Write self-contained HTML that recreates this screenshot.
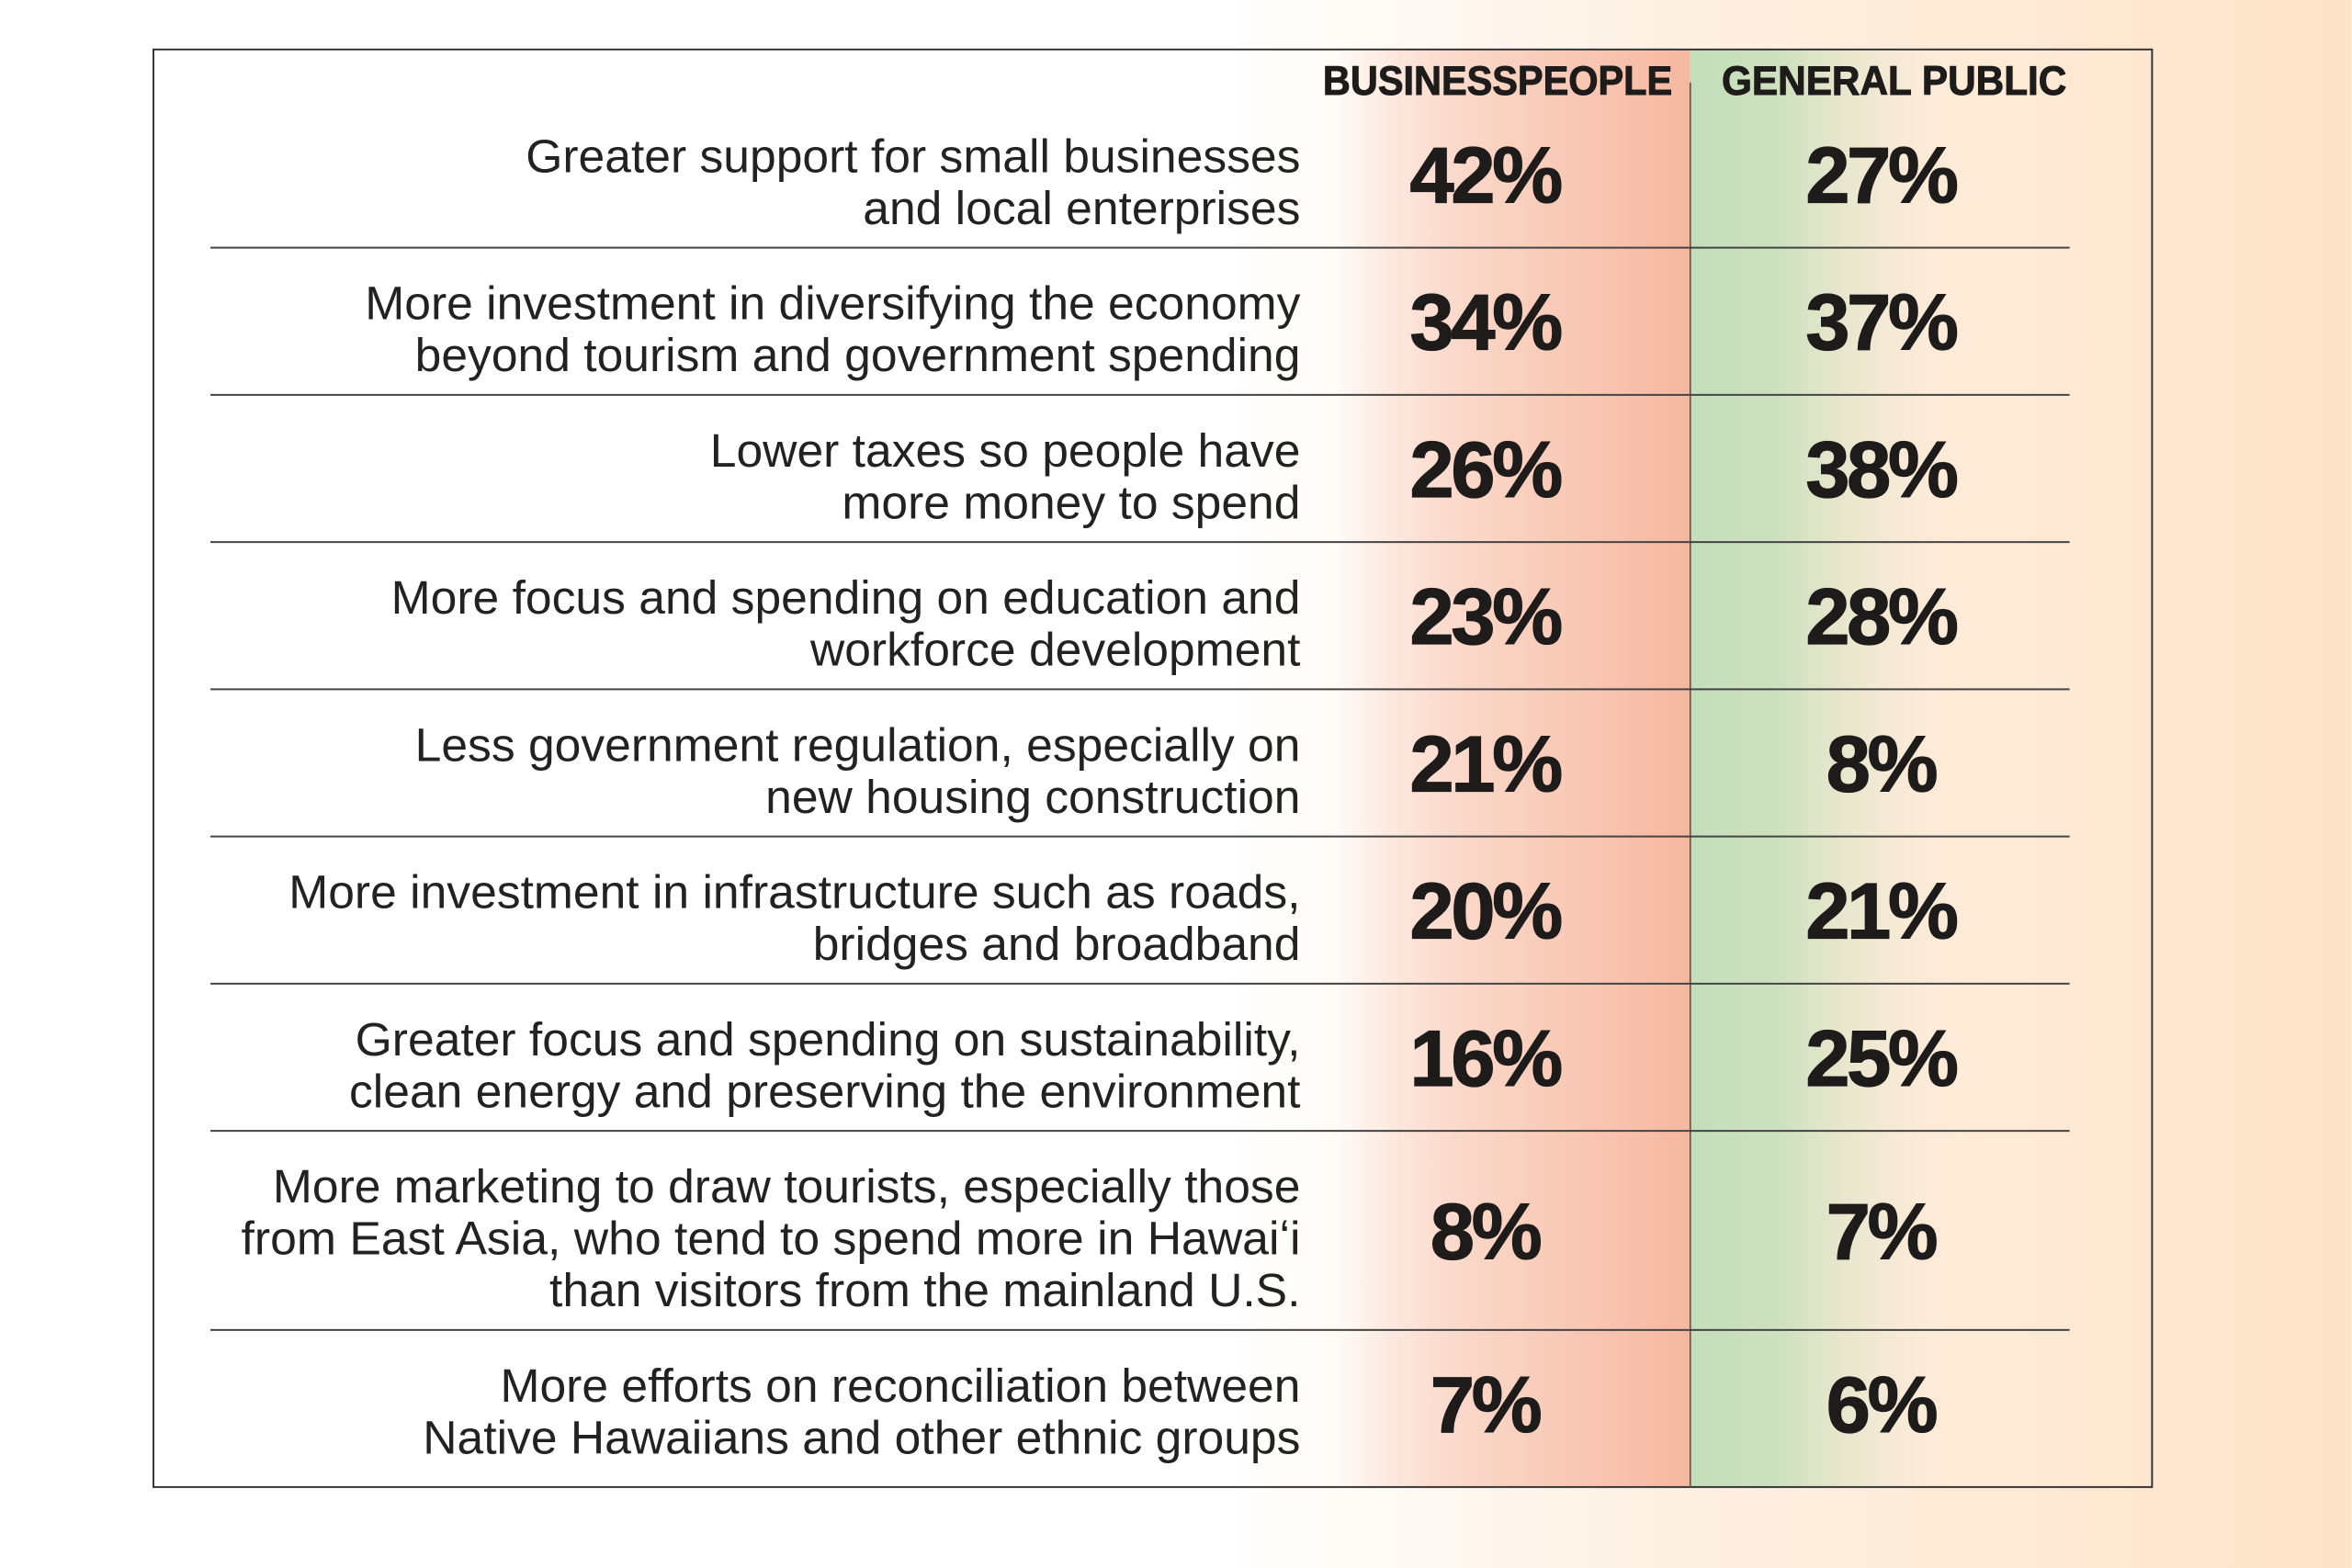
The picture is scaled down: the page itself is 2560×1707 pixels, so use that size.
<!DOCTYPE html>
<html><head><meta charset="utf-8">
<style>
html,body{margin:0;padding:0;width:2560px;height:1707px;overflow:hidden;background:#fff}
svg{display:block}
</style></head>
<body>
<svg id="chart" width="2560" height="1707" viewBox="0 0 1568 1046" xmlns="http://www.w3.org/2000/svg">
<defs>
<linearGradient id="bg" x1="0" y1="0" x2="1568" y2="0" gradientUnits="userSpaceOnUse">
<stop offset="0" stop-color="#ffffff"/><stop offset="0.52" stop-color="#ffffff"/><stop offset="0.72" stop-color="#fef0e2"/><stop offset="1" stop-color="#fde3c8"/>
</linearGradient>
<linearGradient id="salmon" x1="0" y1="0" x2="1" y2="0">
<stop offset="0" stop-color="#f6b49c" stop-opacity="0"/><stop offset="0.45" stop-color="#f8c7b4" stop-opacity="0.75"/><stop offset="1" stop-color="#f6b7a0" stop-opacity="1"/>
</linearGradient>
<linearGradient id="green" x1="0" y1="0" x2="1" y2="0">
<stop offset="0" stop-color="#c4debb"/><stop offset="0.35" stop-color="#cfe1bf"/><stop offset="1" stop-color="#f6e8d4" stop-opacity="0"/>
</linearGradient>
</defs>
<rect x="0" y="0" width="1568" height="1046" fill="url(#bg)"/>
<rect x="102" y="33" width="1333" height="959" fill="url(#bg)"/>
<rect x="890" y="33" width="237" height="959" fill="url(#salmon)"/>
<rect x="1127" y="33" width="180" height="959" fill="url(#green)"/>
<rect x="102" y="33" width="1333" height="959" fill="none" stroke="#333" stroke-width="1.2"/>
<line x1="1127" y1="55" x2="1127" y2="992" stroke="#555" stroke-width="1"/>
<text x="882" y="63" font-family="Liberation Sans, sans-serif" font-weight="bold" font-size="27" stroke="#1e1b1b" stroke-width="0.6" fill="#1e1b1b" textLength="233" lengthAdjust="spacingAndGlyphs">BUSINESSPEOPLE</text>
<text x="1148" y="63" font-family="Liberation Sans, sans-serif" font-weight="bold" font-size="27" stroke="#1e1b1b" stroke-width="0.6" fill="#1e1b1b" textLength="230" lengthAdjust="spacingAndGlyphs">GENERAL PUBLIC</text>
<g id="rows"></g>
</svg>
<script>
const labels = [
 ["Greater support for small businesses","and local enterprises"],
 ["More investment in diversifying the economy","beyond tourism and government spending"],
 ["Lower taxes so people have","more money to spend"],
 ["More focus and spending on education and","workforce development"],
 ["Less government regulation, especially on","new housing construction"],
 ["More investment in infrastructure such as roads,","bridges and broadband"],
 ["Greater focus and spending on sustainability,","clean energy and preserving the environment"],
 ["More marketing to draw tourists, especially those","from East Asia, who tend to spend more in Hawai\u02bbi","than visitors from the mainland U.S."],
 ["More efforts on reconciliation between","Native Hawaiians and other ethnic groups"]
];
const businessValues = [42,34,26,23,21,20,16,8,7];
const generalValues = [27,37,38,28,8,21,25,7,6];

const NS = "http://www.w3.org/2000/svg";
const g = document.getElementById('rows');
const top0 = 67, lineH = 34.6, rowPad = 29;
const ctx = document.createElement('canvas').getContext('2d');
let y = top0;
labels.forEach((lines, i) => {
  const h = lines.length * lineH + rowPad;
  const center = y + h / 2;
  lines.forEach((ln, j) => {
    const t = document.createElementNS(NS, 'text');
    
    
    t.setAttribute('x', 867);
    t.setAttribute('y', center - (lines.length - 1) * lineH / 2 + j * lineH + 16);
    t.setAttribute('text-anchor', 'end');
    t.setAttribute('font-family', 'Liberation Sans, sans-serif');
    t.setAttribute('font-size', '31');
    t.setAttribute('fill', '#222');
    ctx.font = '31px Liberation Sans';
    const w = ctx.measureText(ln).width * 1.02;
    t.setAttribute('textLength', w.toFixed(1));
    t.setAttribute('lengthAdjust', 'spacingAndGlyphs');
    t.textContent = ln;
    g.appendChild(t);
  });
  [[businessValues[i], 990, 'business-value'], [generalValues[i], 1254, 'general-value']].forEach(([v, x, nm]) => {
    const t = document.createElementNS(NS, 'text');
    
    
    t.setAttribute('x', x);
    t.setAttribute('y', center + 19);
    t.setAttribute('text-anchor', 'middle');
    t.setAttribute('font-family', 'Liberation Sans, sans-serif');
    t.setAttribute('font-weight', 'bold');
    t.setAttribute('font-size', '53');
    t.setAttribute('stroke', '#1e1b1b');
    t.setAttribute('stroke-width', '0.8');
    t.setAttribute('fill', '#1e1b1b');
    t.setAttribute('letter-spacing', '-2');
    t.textContent = v + '%';
    g.appendChild(t);
  });
  y += h;
  if (i < labels.length - 1) {
    const l = document.createElementNS(NS, 'line');
    
    
    l.setAttribute('x1', 140); l.setAttribute('x2', 1380);
    l.setAttribute('y1', y); l.setAttribute('y2', y);
    l.setAttribute('stroke', '#444'); l.setAttribute('stroke-width', '1.2');
    g.appendChild(l);
  }
});
</script>
</body></html>
